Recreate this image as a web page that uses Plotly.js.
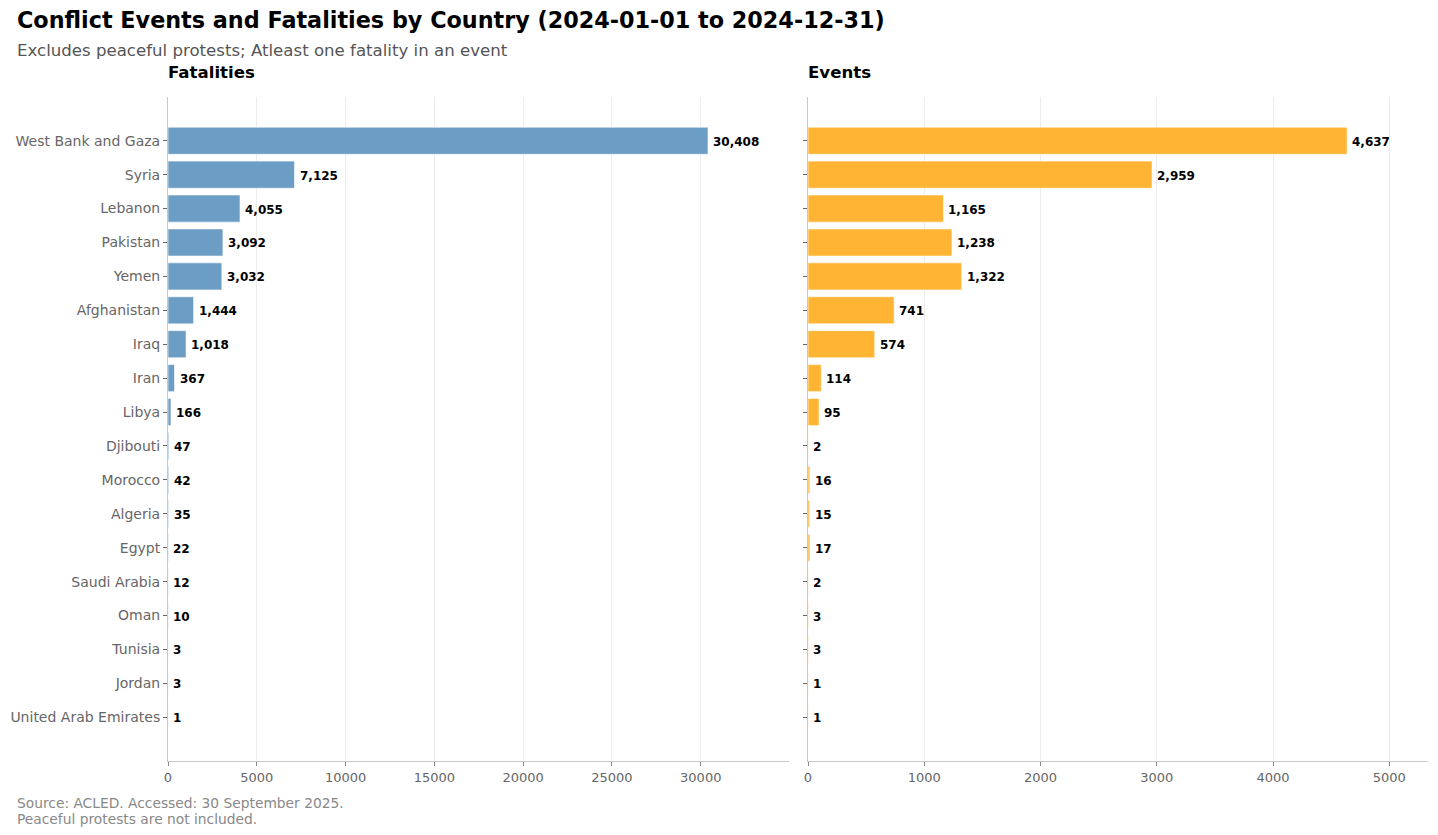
<!DOCTYPE html>
<html>
<head>
<meta charset="utf-8">
<script src="https://cdn.plot.ly/plotly-3.0.1.min.js"></script>
<style>html,body{margin:0;padding:0;background:#fff;}#chart{width:1438px;height:835px;}</style>
</head>
<body>
<div id="chart"></div>
<script>
const countries = ["West Bank and Gaza","Syria","Lebanon","Pakistan","Yemen","Afghanistan","Iraq","Iran","Libya","Djibouti","Morocco","Algeria","Egypt","Saudi Arabia","Oman","Tunisia","Jordan","United Arab Emirates"];
const fatalities = [30408,7125,4055,3092,3032,1444,1018,367,166,47,42,35,22,12,10,3,3,1];
const events = [4637,2959,1165,1238,1322,741,574,114,95,2,16,15,17,2,3,3,1,1];

const W = 1438, H = 835;
const px = v => v / W;
const py = v => 1 - v / H;
const FONT = "DejaVu Sans, sans-serif";
const fmt = v => v.toLocaleString('en-US');

const data = [
  {type: 'bar', orientation: 'h', y: countries, x: fatalities, xaxis: 'x', yaxis: 'y',
    hoverinfo: 'skip', width: 0.8,
    marker: {color: '#6b9dc5', line: {color: '#ffffff', width: 0.6}}},
  {type: 'bar', orientation: 'h', y: countries, x: events, xaxis: 'x2', yaxis: 'y2',
    hoverinfo: 'skip', width: 0.8,
    marker: {color: '#ffb533', line: {color: '#ffffff', width: 0.6}}}
];

const yRange = [countries.length - 1 + 1.29, -1.29];
const xCommon = {
  showgrid: true, gridcolor: '#ececec', gridwidth: 1,
  zeroline: false, showline: true, linecolor: '#c8c8c8', linewidth: 1,
  ticks: 'outside', ticklen: 4, tickcolor: '#888',
  tickfont: {family: FONT, size: 13, color: '#666'},
  automargin: false, fixedrange: true
};
const yCommon = {
  type: 'category', range: yRange, showgrid: false, zeroline: false,
  showline: true, linecolor: '#c8c8c8', linewidth: 1,
  ticks: 'outside', ticklen: 4, tickcolor: '#666',
  tickfont: {family: FONT, size: 14, color: '#666'},
  automargin: false, fixedrange: true,
  domain: [py(761), py(97)]
};

const annotations = [
  {text: 'Conflict Events and Fatalities by Country (2024-01-01 to 2024-12-31)', xref: 'paper', yref: 'paper', x: px(15), y: py(20), xanchor: 'left', yanchor: 'middle', showarrow: false, font: {family: FONT, size: 22.3, color: '#000', weight: 'bold'}},
  {text: 'Excludes peaceful protests; Atleast one fatality in an event', xref: 'paper', yref: 'paper', x: px(15), y: py(50), xanchor: 'left', yanchor: 'middle', showarrow: false, font: {family: FONT, size: 16.6, color: '#555'}},
  {text: 'Fatalities', xref: 'paper', yref: 'paper', x: px(166), y: py(72), xanchor: 'left', yanchor: 'middle', showarrow: false, font: {family: FONT, size: 16.6, color: '#000', weight: 'bold'}},
  {text: 'Events', xref: 'paper', yref: 'paper', x: px(806), y: py(72), xanchor: 'left', yanchor: 'middle', showarrow: false, font: {family: FONT, size: 16.6, color: '#000', weight: 'bold'}},
  {text: 'Source: ACLED. Accessed: 30 September 2025.', xref: 'paper', yref: 'paper', x: px(15), y: py(803), xanchor: 'left', yanchor: 'middle', align: 'left', showarrow: false, font: {family: FONT, size: 13.8, color: '#888'}},
  {text: 'Peaceful protests are not included.', xref: 'paper', yref: 'paper', x: px(15), y: py(819), xanchor: 'left', yanchor: 'middle', align: 'left', showarrow: false, font: {family: FONT, size: 13.8, color: '#888'}}
];
countries.forEach((c, i) => {
  annotations.push({text: fmt(fatalities[i]), xref: 'x', yref: 'y', x: fatalities[i], y: c, xanchor: 'left', yanchor: 'middle', xshift: 3, yshift: -1, showarrow: false, font: {family: FONT, size: 12, color: '#000', weight: 'bold'}});
  annotations.push({text: fmt(events[i]), xref: 'x2', yref: 'y2', x: events[i], y: c, xanchor: 'left', yanchor: 'middle', xshift: 3, yshift: -1, showarrow: false, font: {family: FONT, size: 12, color: '#000', weight: 'bold'}});
});

const layout = {
  width: W, height: H,
  margin: {l: 0, r: 0, t: 0, b: 0},
  paper_bgcolor: '#fff', plot_bgcolor: '#fff',
  showlegend: false, bargap: 0.2,
  font: {family: FONT},
  xaxis: Object.assign({}, xCommon, {domain: [px(168), px(789)], range: [0, 30408 * 1.15], anchor: 'y', tickvals: [0,5000,10000,15000,20000,25000,30000], ticktext: ['0','5000','10000','15000','20000','25000','30000']}),
  yaxis: Object.assign({}, yCommon, {anchor: 'x'}),
  xaxis2: Object.assign({}, xCommon, {domain: [px(808), px(1428)], range: [0, 4637 * 1.15], anchor: 'y2', tickvals: [0,1000,2000,3000,4000,5000], ticktext: ['0','1000','2000','3000','4000','5000']}),
  yaxis2: Object.assign({}, yCommon, {anchor: 'x2', showticklabels: false}),
  annotations: annotations
};

Plotly.newPlot('chart', data, layout, {displayModeBar: false, staticPlot: true});
</script>
</body>
</html>
